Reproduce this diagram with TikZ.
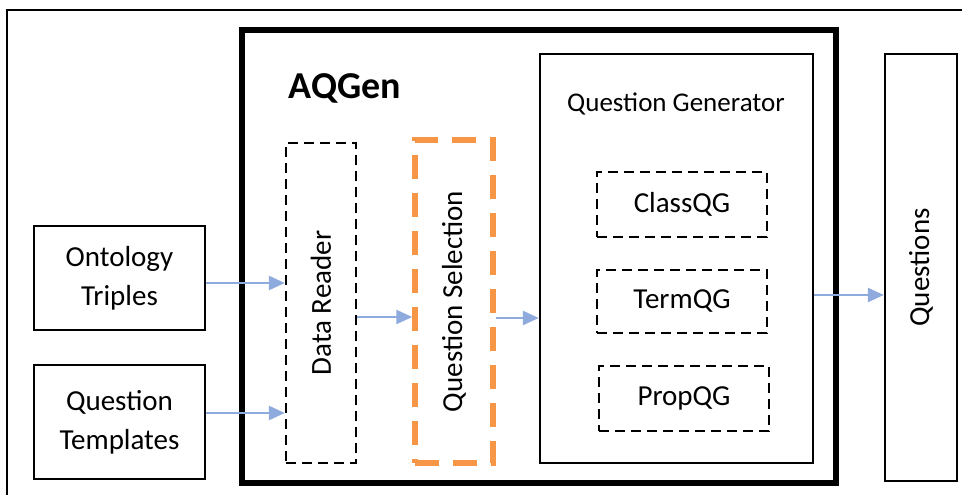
\documentclass[tikz,border=0pt]{standalone}
\usepackage{fontspec}
\setmainfont{Carlito}
\usetikzlibrary{arrows.meta}
\definecolor{arrowblue}{HTML}{8FAADC}
\definecolor{selorange}{HTML}{F79646}
\tikzset{
  box/.style={draw, line width=2.4pt, align=center, inner sep=0pt},
  dashbox/.style={draw, line width=2.4pt, dash pattern=on 10pt off 6pt, align=center, inner sep=0pt},
  flow/.style={draw=arrowblue, line width=2.6pt, -{Triangle[length=16pt,width=14pt]}},
}
\begin{document}
\begin{tikzpicture}[x=1pt, y=-1pt, font=\fontsize{29}{39}\selectfont]
    \useasboundingbox (0,0) rectangle (962,495);

    % outer frame
    \draw[line width=2.6pt] (7,10) rectangle (975,505);

    % AQGen
    \node[box, line width=5.5pt, minimum width=594pt, minimum height=453pt] (aqgen) at (539,256.5) {};
    \node[font=\fontsize{38}{42}\selectfont\bfseries] (aqlabel) at (345,88) {AQGen};

    % inputs
    \node[box, minimum width=171pt, minimum height=104pt] (ont) at (119.5,278) {Ontology\\Triples};
    \node[box, minimum width=171pt, minimum height=114pt] (tpl) at (119.5,422) {Question\\Templates};

    % reader and selection
    \node[dashbox, minimum width=70pt, minimum height=320pt] (reader) at (321,303) {};
    \node[rotate=90] (readerlabel) at (reader.center) {Data Reader};
    \node[draw=selorange, line width=5.5pt, dash pattern=on 24pt off 14pt, minimum width=78pt, minimum height=323pt] (select) at (454,301.5) {};
    \node[rotate=90] (selectlabel) at (select.center) {Question Selection};

    % generator
    \node[box, minimum width=273pt, minimum height=409pt] (gen) at (676.5,258.5) {};
    \node[font=\fontsize{27}{32}\selectfont] (genlabel) at (676,104) {Question Generator};
    \node[dashbox, minimum width=170pt, minimum height=65pt] (classqg) at (682,204.5) {ClassQG};
    \node[dashbox, minimum width=170pt, minimum height=63pt] (termqg) at (682,301.5) {TermQG};
    \node[dashbox, minimum width=170pt, minimum height=65pt] (propqg) at (684,398.5) {PropQG};

    % output
    \node[box, minimum width=72pt, minimum height=427pt] (out) at (921,267.5) {};
    \node[rotate=90] (outlabel) at (out.center) {Questions};

    % arrows
    \draw[flow] ([yshift=-5pt]ont.east) -- ([yshift=-5pt]ont.east -| reader.west);
    \draw[flow] ([yshift=9pt]tpl.east) -- ([yshift=9pt]tpl.east -| reader.west);
    \draw[flow] ([yshift=-14pt]reader.east) -- ([yshift=-14pt]reader.east -| select.west);
    \draw[flow] ([yshift=-16.5pt]select.east) -- ([yshift=-16.5pt]select.east -| gen.west);
    \draw[flow] ([yshift=-36.5pt]gen.east) -- ([yshift=-36.5pt]gen.east -| out.west);
\end{tikzpicture}
\end{document}
